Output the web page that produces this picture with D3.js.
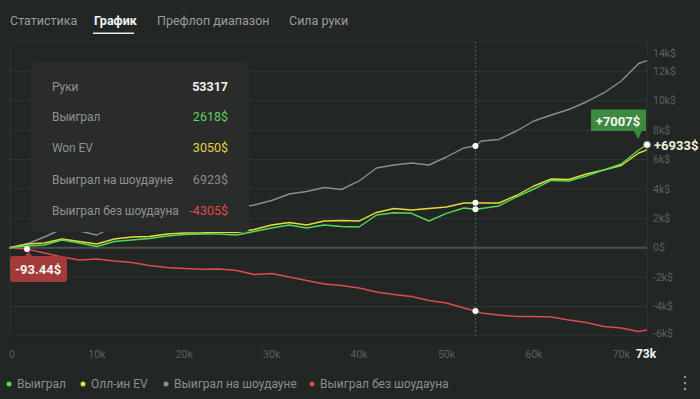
<!DOCTYPE html>
<html>
<head>
<meta charset="utf-8">
<script src="https://cdn.jsdelivr.net/npm/d3@7"></script>
<style>
  html, body { margin: 0; padding: 0; background: #222625; }
  svg { display: block; }
</style>
</head>
<body>
<div id="chart"></div>
<script>
/////// DATA

const tabs = ["Статистика", "График", "Префлоп диапазон", "Сила руки"];

const hands = [0, 2000, 4000, 6000, 8000, 10000, 12000, 14000, 16000, 18000,
  20000, 22000, 24000, 26000, 28000, 30000, 32000, 34000, 36000, 38000,
  40000, 42000, 44000, 46000, 48000, 50000, 52000, 53317, 54000, 56000,
  58000, 60000, 62000, 64000, 66000, 68000, 70000, 72000, 72950];

const won = [0, 116, 184, 524, 320, 82, 422, 524, 626, 796,
  898, 932, 932, 864, 1102, 1340, 1544, 1340, 1544, 1442,
  1408, 2225, 2381, 2340, 1816, 2340, 2700, 2618, 2667, 2837,
  3449, 3993, 4572, 4538, 4878, 5286, 5694, 6647, 7007];

const allInEV = [0, 252, 320, 592, 422, 252, 592, 728, 762, 932,
  1000, 1000, 1068, 1034, 1238, 1544, 1714, 1544, 1816, 1850,
  1816, 2395, 2667, 2565, 2667, 2769, 3041, 3050, 3041, 3041,
  3551, 4197, 4674, 4640, 5014, 5286, 5592, 6442, 6650];

const showdown = [0, 252, 728, 1272, 1136, 864, 1476, 1680, 1952, 2157,
  2293, 2429, 2565, 2701, 2905, 3211, 3653, 3823, 4095, 3959,
  4538, 5422, 5626, 5762, 5626, 6170, 6783, 6923, 7259, 7361,
  7939, 8620, 9028, 9402, 9912, 10524, 11341, 12531, 12722];

const nonShowdown = [0, -93, -361, -633, -837, -769, -905, -1007, -1211, -1347,
  -1415, -1470, -1449, -1551, -1823, -1755, -1993, -2231, -2469, -2572,
  -2742, -3014, -3184, -3320, -3592, -3762, -4102, -4305, -4442, -4578,
  -4680, -4680, -4714, -4918, -5089, -5361, -5463, -5701, -5599];

const yTicks = [-6000, -4000, -2000, 0, 2000, 4000, 6000, 8000, 10000, 12000, 14000];
const xTicks = [0, 10000, 20000, 30000, 40000, 50000, 60000, 70000];

const legendNames = ["Выиграл", "Олл-ин EV", "Выиграл на шоудауне", "Выиграл без шоудауна"];
const tooltipNames = ["Руки", "Выиграл", "Won EV", "Выиграл на шоудауне", "Выиграл без шоудауна"];
const hoverIndex = 27;   // 53317 hands
const startLabelIndex = 1; // -93.44$

/////// SETUP

const width = 700, height = 399;
const colors = { won: "#55d855", ev: "#e3dc3c", sd: "#8c8c8c", nsd: "#e04a4a" };

const svg = d3.select("#chart").append("svg")
  .attr("width", width)
  .attr("height", height);

svg.append("rect").attr("width", width).attr("height", height).attr("fill", "#222625");

const x = d3.scaleLinear().domain([0, 72950]).range([9.5, 647]);
const y = d3.scaleLinear().domain([-6000, 14000]).range([335.9, 41.9]);

// tabs
const tabX = [10, 94, 157, 289];
svg.selectAll(".tab")
  .data(tabs)
  .join("text")
  .attr("x", (d, i) => tabX[i])
  .attr("y", 25)
  .attr("font-family", "Roboto, sans-serif")
  .attr("font-size", 12.5)
  .attr("font-weight", (d, i) => i === 1 ? "bold" : "normal")
  .attr("fill", (d, i) => i === 1 ? "#f2f2f2" : "#9a9d9c")
  .text(d => d);
svg.append("rect").attr("x", 93).attr("y", 32.5).attr("width", 41).attr("height", 1.5).attr("fill", "#e8e8e8");

// grid
svg.append("g")
  .selectAll("line")
  .data(yTicks)
  .join("line")
  .attr("x1", 10).attr("x2", 647)
  .attr("y1", d => y(d)).attr("y2", d => y(d))
  .attr("stroke", d => d === 0 ? "#4b504f" : "#303534")
  .attr("stroke-width", d => d === 0 ? 2 : 1);

svg.append("line").attr("x1", 10).attr("x2", 10).attr("y1", y(14000)).attr("y2", y(-6000))
  .attr("stroke", "#303534");
svg.append("line").attr("x1", 647).attr("x2", 647).attr("y1", y(14000)).attr("y2", y(-6000))
  .attr("stroke", "#303534");

// y labels (right side)
svg.append("g")
  .selectAll("text")
  .data(yTicks)
  .join("text")
  .attr("x", 653)
  .attr("y", d => Math.max(53, Math.min(333, y(d))))
  .attr("dy", "0.35em")
  .attr("font-family", "Roboto, sans-serif")
  .attr("font-size", 10.5)
  .attr("fill", "#5b605f")
  .text(d => (d === 0 ? "0" : (d / 1000) + "k") + "$");

// x labels
svg.append("g")
  .selectAll("text")
  .data(xTicks)
  .join("text")
  .attr("x", d => Math.max(12, x(d)))
  .attr("y", 358)
  .attr("text-anchor", "middle")
  .attr("font-family", "Roboto, sans-serif")
  .attr("font-size", 10.5)
  .attr("fill", "#5b605f")
  .text(d => d === 0 ? "0" : (d / 1000) + "k");

svg.append("text")
  .attr("x", x(72950) - 1).attr("y", 358)
  .attr("text-anchor", "middle")
  .attr("font-family", "Roboto, sans-serif")
  .attr("font-size", 12)
  .attr("font-weight", "bold")
  .attr("fill", "#f2f2f2")
  .text("73k");

// crosshair
svg.append("line")
  .attr("x1", x(hands[hoverIndex])).attr("x2", x(hands[hoverIndex]))
  .attr("y1", y(14000)).attr("y2", y(-6000))
  .attr("stroke", "#555a59")
  .attr("stroke-dasharray", "2,2");

/////// LINES

const series = [
  { key: "sd", values: showdown },
  { key: "nsd", values: nonShowdown },
  { key: "ev", values: allInEV },
  { key: "won", values: won }
];

const line = d3.line()
  .x((d, i) => x(hands[i]))
  .y(d => y(d));

svg.append("g")
  .selectAll("path")
  .data(series)
  .join("path")
  .attr("d", d => line(d.values))
  .attr("fill", "none")
  .attr("stroke", d => colors[d.key])
  .attr("stroke-width", 1.4)
  .attr("stroke-linejoin", "round");

// hover dots
svg.append("g")
  .selectAll("circle")
  .data(series)
  .join("circle")
  .attr("cx", x(hands[hoverIndex]))
  .attr("cy", d => y(d.values[hoverIndex]))
  .attr("r", 3)
  .attr("fill", "#ffffff");

/////// ANNOTATIONS

// end label (green)
const last = hands.length - 1;
const ex = x(hands[last]), ey = y(won[last]);
svg.append("path")
  .attr("d", `M591,109.5 h55 v21.5 h-4 l-4,8 l-4,-8 h-43 z`)
  .attr("fill", "#3c8a3f");
svg.append("text")
  .attr("x", 618).attr("y", 121)
  .attr("dy", "0.35em")
  .attr("text-anchor", "middle")
  .attr("font-family", "Roboto, sans-serif")
  .attr("font-size", 13)
  .attr("font-weight", "bold")
  .attr("fill", "#f4f4f4")
  .text("+" + won[last] + "$");
svg.append("circle").attr("cx", ex).attr("cy", ey).attr("r", 3.5)
  .attr("fill", "#ffffff").attr("stroke", "#7a7a7a").attr("stroke-width", 1);
svg.append("text")
  .attr("x", 654).attr("y", ey + 1)
  .attr("dy", "0.35em")
  .attr("font-family", "Roboto, sans-serif")
  .attr("font-size", 13)
  .attr("font-weight", "bold")
  .attr("fill", "#eef3dc")
  .text("+6933$");

// start label (red)
const sx = x(hands[startLabelIndex]), sy = y(nonShowdown[startLabelIndex]);
svg.append("path")
  .attr("d", `M13,256 h12 l3.5,-5 l3.5,5 h32 a3,3 0 0 1 3,3 v20 a3,3 0 0 1 -3,3 h-51 a3,3 0 0 1 -3,-3 v-20 a3,3 0 0 1 3,-3 z`)
  .attr("fill", "#a33a3a");
svg.append("circle").attr("cx", sx).attr("cy", sy).attr("r", 3).attr("fill", "#ffffff");
svg.append("text")
  .attr("x", 38).attr("y", 269)
  .attr("dy", "0.35em")
  .attr("text-anchor", "middle")
  .attr("font-family", "Roboto, sans-serif")
  .attr("font-size", 13)
  .attr("font-weight", "bold")
  .attr("fill", "#f4f4f4")
  .text("-93.44$");

/////// TOOLTIP

const tip = svg.append("g");
tip.append("rect")
  .attr("x", 31).attr("y", 62).attr("width", 218).attr("height", 170)
  .attr("rx", 4)
  .attr("fill", "#2a2b2b");

const tipValues = [
  { text: String(hands[hoverIndex]), color: "#f0f0f0", bold: true },
  { text: won[hoverIndex] + "$", color: "#5fd05f" },
  { text: allInEV[hoverIndex] + "$", color: "#e6d53a" },
  { text: showdown[hoverIndex] + "$", color: "#8a8a8a" },
  { text: nonShowdown[hoverIndex] + "$", color: "#e04a4a" }
];
const rowY = [87, 117, 148, 180, 211];

tip.selectAll(".lbl")
  .data(tooltipNames)
  .join("text")
  .attr("x", 52)
  .attr("y", (d, i) => rowY[i])
  .attr("dy", "0.35em")
  .attr("font-family", "Roboto, sans-serif")
  .attr("font-size", 12)
  .attr("letter-spacing", "-0.1px")
  .attr("fill", "#8f9291")
  .text(d => d);

tip.selectAll(".val")
  .data(tipValues)
  .join("text")
  .attr("x", 228)
  .attr("y", (d, i) => rowY[i])
  .attr("dy", "0.35em")
  .attr("text-anchor", "end")
  .attr("font-family", "Roboto, sans-serif")
  .attr("font-size", 12.5)
  .attr("font-weight", d => d.bold ? "bold" : "normal")
  .attr("fill", d => d.color)
  .text(d => d.text);

/////// LEGEND

const legendColors = [colors.won, colors.ev, colors.sd, colors.nsd];
const legendX = [9, 83, 166, 312];
const leg = svg.append("g")
  .selectAll("g")
  .data(legendNames)
  .join("g")
  .attr("transform", (d, i) => `translate(${legendX[i]},384)`);
leg.append("circle").attr("r", 2.5).attr("fill", (d, i) => legendColors[i]);
leg.append("text")
  .attr("x", 8)
  .attr("dy", "0.35em")
  .attr("font-family", "Roboto, sans-serif")
  .attr("font-size", 12)
  .attr("fill", "#8a8e8d")
  .text(d => d);

// menu dots
svg.append("g")
  .selectAll("circle")
  .data([377, 383, 389])
  .join("circle")
  .attr("cx", 685).attr("cy", d => d).attr("r", 1.3)
  .attr("fill", "#8a8e8d");
</script>
</body>
</html>
